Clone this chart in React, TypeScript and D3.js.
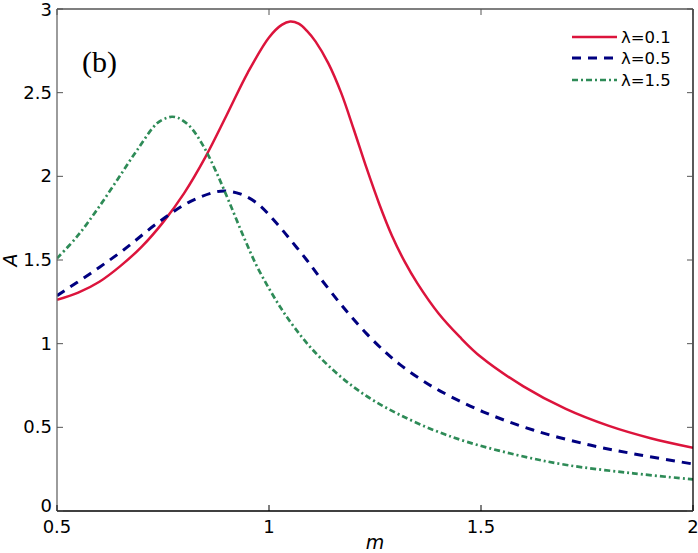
import React from "react";
import * as d3 from "d3";

const W = 698;
const H = 553;

const xTicks = [0.5, 1, 1.5, 2];
const xTickLabels = ["0.5", "1", "1.5", "2"];
const yTicks = [0, 0.5, 1, 1.5, 2, 2.5, 3];
const yTickLabels = ["0", "0.5", "1", "1.5", "2", "2.5", "3"];

// λ = 0.1
const redM = [0.5, 0.55, 0.6, 0.65, 0.7, 0.75, 0.8, 0.85, 0.9, 0.95, 1.0, 1.03, 1.05, 1.07, 1.09, 1.11, 1.14, 1.17, 1.2, 1.23, 1.26, 1.29, 1.32, 1.35, 1.4, 1.45, 1.5, 1.6, 1.7, 1.8, 1.9, 2.0];
const redA = [1.262, 1.305, 1.37, 1.465, 1.58, 1.725, 1.9, 2.115, 2.365, 2.62, 2.83, 2.905, 2.925, 2.912, 2.868, 2.805, 2.675, 2.5, 2.28, 2.05, 1.835, 1.645, 1.49, 1.36, 1.18, 1.04, 0.92, 0.745, 0.61, 0.51, 0.435, 0.378];

// λ = 0.5
const blueM = [0.5, 0.579, 0.657, 0.736, 0.814, 0.877, 0.9, 0.932, 0.972, 1.018, 1.054, 1.089, 1.12, 1.16, 1.191, 1.23, 1.274, 1.309, 1.356, 1.403, 1.505, 1.623, 1.757, 1.875, 2.0];
const blueA = [1.287, 1.42, 1.56, 1.719, 1.849, 1.908, 1.912, 1.895, 1.839, 1.719, 1.61, 1.5, 1.395, 1.265, 1.17, 1.06, 0.95, 0.875, 0.79, 0.718, 0.593, 0.484, 0.394, 0.335, 0.281];

// λ = 1.5
const greenM = [0.5, 0.547, 0.594, 0.642, 0.689, 0.736, 0.76, 0.771, 0.785, 0.814, 0.846, 0.877, 0.908, 0.94, 0.97, 1.0, 1.03, 1.06, 1.1, 1.15, 1.2, 1.25, 1.309, 1.388, 1.466, 1.584, 1.702, 1.859, 2.0];
const greenA = [1.51, 1.639, 1.799, 1.978, 2.157, 2.317, 2.35, 2.356, 2.35, 2.297, 2.177, 2.018, 1.835, 1.64, 1.47, 1.33, 1.205, 1.097, 0.972, 0.845, 0.74, 0.655, 0.574, 0.484, 0.414, 0.335, 0.275, 0.225, 0.189];

const seriesNames = ["0.1", "0.5", "1.5"];
const seriesColors = ["#dc143c", "#000080", "#2e8b57"];
const seriesDash = ["none", "9,7", "6,3,2,3"];
const seriesWidth = [2.5, 3, 2.7];

const left = 57, right = 693, top = 9, bottom = 511;

export default function App() {
  const x = d3.scaleLinear().domain([0.5, 2]).range([left, right]);
  const y = d3.scaleLinear().domain([0, 3]).range([bottom, top]);
  const line = d3
    .line<[number, number]>()
    .x((d) => x(d[0]))
    .y((d) => y(d[1]))
    .curve(d3.curveCatmullRom.alpha(0.5));

  const series = [
    d3.zip(redM, redA) as [number, number][],
    d3.zip(blueM, blueA) as [number, number][],
    d3.zip(greenM, greenA) as [number, number][],
  ];

  const font = "'DejaVu Sans', 'Liberation Sans', sans-serif";
  const tick = 6;
  const legendY = [37, 58, 80];

  return (
    <svg
      width={W}
      height={H}
      style={{ position: "absolute", left: 0, top: 0, background: "#fff" }}
      fontFamily={font}
    >
      <rect x={0} y={0} width={W} height={H} fill="#fff" />
      <defs>
        <clipPath id="plotClip">
          <rect x={left} y={top - 2} width={right - left} height={bottom - top + 2} />
        </clipPath>
      </defs>

      {/* curves */}
      <g clipPath="url(#plotClip)">
        {series.map((s, i) => (
          <path
            key={i}
            d={line(s) || ""}
            fill="none"
            stroke={seriesColors[i]}
            strokeWidth={seriesWidth[i]}
            strokeDasharray={seriesDash[i]}
          />
        ))}
      </g>

      {/* axes box */}
      <line x1={left} x2={right} y1={top} y2={top} stroke="#555" strokeWidth={1.3} />
      <line x1={left} x2={left} y1={top} y2={bottom} stroke="#666" strokeWidth={1.3} />
      <line x1={left} x2={right} y1={bottom} y2={bottom} stroke="#000" strokeWidth={1.3} />
      <line x1={right} x2={right} y1={top} y2={bottom} stroke="#000" strokeWidth={1.3} />

      {/* x ticks */}
      {xTicks.map((t, i) => (
        <g key={"xt" + i}>
          <line x1={x(t)} x2={x(t)} y1={bottom} y2={bottom - tick} stroke="#000" strokeWidth={1} />
          <line x1={x(t)} x2={x(t)} y1={top} y2={top + tick} stroke="#555" strokeWidth={1} />
          <text x={x(t)} y={533} textAnchor="middle" fontSize={18} fill="#000">
            {xTickLabels[i]}
          </text>
        </g>
      ))}

      {/* y ticks */}
      {yTicks.map((t, i) => (
        <g key={"yt" + i}>
          <line x1={left} x2={left + tick} y1={y(t)} y2={y(t)} stroke="#555" strokeWidth={1} />
          <line x1={right} x2={right - tick} y1={y(t)} y2={y(t)} stroke="#555" strokeWidth={1} />
          <text
            x={52}
            y={y(t) + (t === 0 ? 1 : t === 3 ? 7 : 6)}
            textAnchor="end"
            fontSize={18}
            fill="#000"
          >
            {yTickLabels[i]}
          </text>
        </g>
      ))}

      {/* axis labels */}
      <text x={375} y={549} textAnchor="middle" fontSize={19} fontStyle="italic">
        m
      </text>
      <text
        transform={`translate(17,${(top + bottom) / 2}) rotate(-90)`}
        textAnchor="middle"
        fontSize={19}
        fontStyle="italic"
      >
        A
      </text>

      {/* panel label */}
      <text x={82} y={72} fontSize={30} fontFamily="'Liberation Serif', 'Times New Roman', serif">
        (b)
      </text>

      {/* legend */}
      {seriesNames.map((n, i) => (
        <g key={"lg" + i}>
          <line
            x1={572}
            x2={617}
            y1={legendY[i]}
            y2={legendY[i]}
            stroke={seriesColors[i]}
            strokeWidth={seriesWidth[i]}
            strokeDasharray={seriesDash[i]}
          />
          <text x={621} y={legendY[i]} dy="0.36em" fontSize={16.5} fill="#000">
            {"λ=" + n}
          </text>
        </g>
      ))}
    </svg>
  );
}
